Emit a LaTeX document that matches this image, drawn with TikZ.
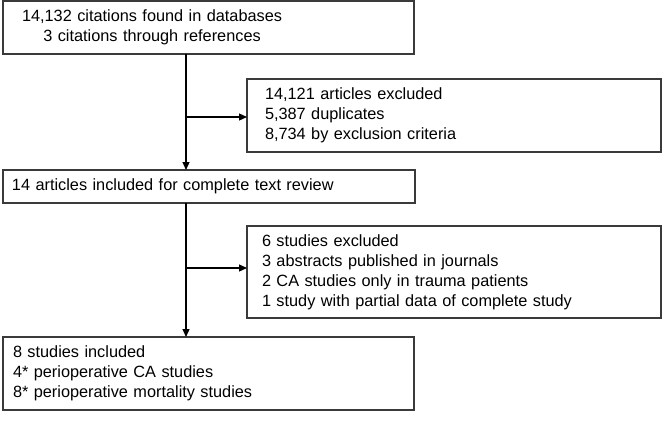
\documentclass[tikz,border=0pt]{standalone}
\usepackage{fontspec}
\setmainfont{Liberation Sans}
\usepackage{xcolor}
\usetikzlibrary{arrows.meta}
\definecolor{boxline}{HTML}{3A3A3A}

\begin{document}
\begin{tikzpicture}[x=1pt,y=-1pt]
\tikzstyle{box}=[draw=boxline, line width=1.4pt, rectangle, anchor=north west, align=left, inner ysep=0pt, outer sep=0pt, font=\fontsize{16.3}{20}\selectfont]
\tikzstyle{arr}=[line width=1.2pt, -{Triangle[length=8pt,width=7pt]}]
\useasboundingbox (0,0) rectangle (666,426);
\coordinate (spine) at (186,0);
\node[box, text width=373pt, inner xsep=19pt, minimum height=53pt] (found) at (3,1)
	{\begin{tabular}{@{}c@{}}14,132 citations found in databases\\3 citations through references\end{tabular}};
\node[box, text width=378pt, inner xsep=18pt, minimum height=73pt] (excl1) at (247,79)
	{14,121 articles excluded\\5,387 duplicates\\8,734 by exclusion criteria};
\node[box, text width=394pt, inner xsep=9pt, minimum height=33pt] (review) at (3,170)
	{14 articles included for complete text review};
\node[box, text width=384pt, inner xsep=15pt, minimum height=92pt] (excl2) at (247,226)
	{6 studies excluded\\3 abstracts published in journals\\2 CA studies only in trauma patients\\1 study with partial data of complete study};
\node[box, text width=391pt, inner xsep=10pt, minimum height=73pt] (incl) at (3,337)
	{8 studies included\\4* perioperative CA studies\\8* perioperative mortality studies};
\draw[arr] (found.south -| spine) -- (review.north -| spine);
\draw[arr] ([yshift=-1.5pt]excl1.west -| spine) -- ([yshift=-1.5pt]excl1.west);
\draw[arr] (review.south -| spine) -- (incl.north -| spine);
\draw[arr] ([yshift=4pt]excl2.west -| spine) -- ([yshift=4pt]excl2.west);
\end{tikzpicture}
\end{document}
